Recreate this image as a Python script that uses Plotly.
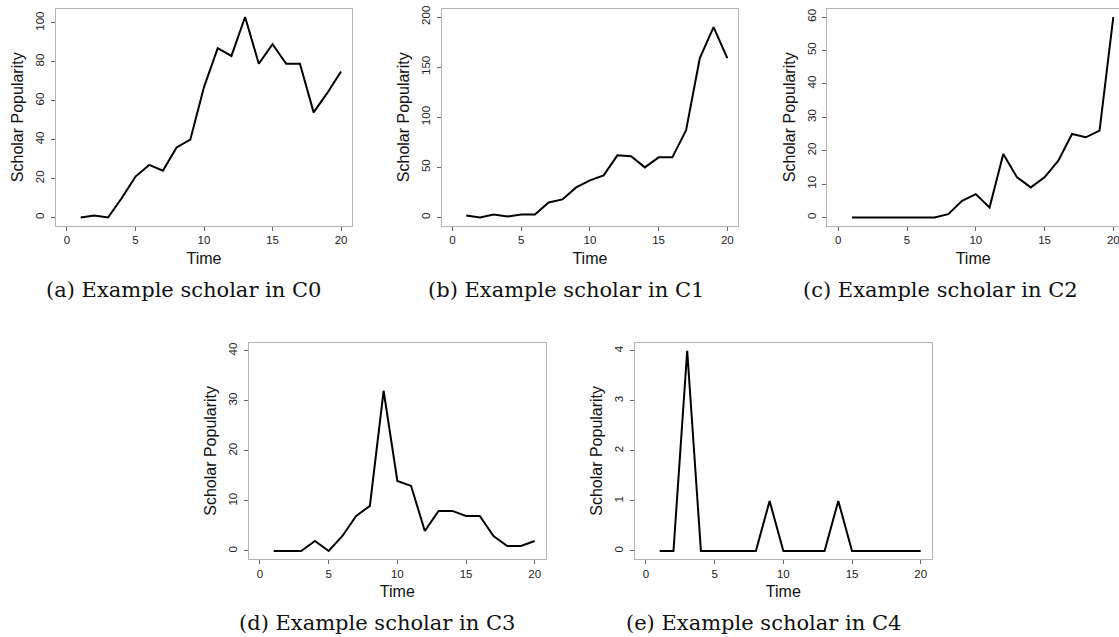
import plotly.graph_objects as go

# ---- data ----
time = list(range(1, 21))
c0 = [0, 1, 0, 10, 21, 27, 24, 36, 40, 67, 87, 83, 103, 79, 89, 79, 79, 54, 64, 75]
c1 = [2, 0, 3, 1, 3, 3, 15, 18, 30, 37, 42, 62, 61, 50, 60, 60, 87, 159, 190, 159]
c2 = [0, 0, 0, 0, 0, 0, 0, 1, 5, 7, 3, 19, 12, 9, 12, 17, 25, 24, 26, 60]
c3 = [0, 0, 0, 2, 0, 3, 7, 9, 32, 14, 13, 4, 8, 8, 7, 7, 3, 1, 1, 2]
c4 = [0, 0, 4, 0, 0, 0, 0, 0, 1, 0, 0, 0, 0, 1, 0, 0, 0, 0, 0, 0]
series = [c0, c1, c2, c3, c4]
ymax = [103, 200, 60, 40, 4]
ydtick = [20, 50, 10, 10, 1]
x_ticks = [0, 5, 10, 15, 20]
captions = ["(a) Example scholar in C0", "(b) Example scholar in C1",
            "(c) Example scholar in C2", "(d) Example scholar in C3",
            "(e) Example scholar in C4"]

# ---- layout (pixels) ----
W, H = 1119, 637
# plot boxes: (left, right, top, bottom) in pixels
boxes = [(56, 352, 9, 225.5), (441.5, 738.3, 9, 225.5), (827.3, 1124.3, 9, 225.5),
         (249, 545.7, 342.7, 559), (635, 931.7, 342.7, 559)]
cap_pos = [(183, 290), (566, 290), (940, 290), (377, 623), (763, 623)]

fig = go.Figure()
layout = dict(width=W, height=H, margin=dict(l=0, r=0, t=0, b=0),
              paper_bgcolor="white", plot_bgcolor="white", showlegend=False,
              font=dict(family="Liberation Sans, Arial, sans-serif", color="#222"))
annotations = []
tickfont = dict(family="Liberation Sans, Arial, sans-serif", size=11.5, color="#222")
titlefont = dict(family="Liberation Sans, Arial, sans-serif", size=16, color="#111")

for i, (ys, m, dt, box, cap) in enumerate(zip(series, ymax, ydtick, boxes, cap_pos)):
    n = "" if i == 0 else str(i + 1)
    l, r, t, b = box
    xr0, xr1 = -0.8, 20.8
    xright = r
    clipped = r > W
    if clipped:
        # box is clipped at the page edge
        scale = (r - l) / (xr1 - xr0)
        xr1 = xr0 + (W - l) / scale
        xright = W
    fig.add_trace(go.Scatter(x=time, y=ys, mode="lines",
                             line=dict(color="black", width=2),
                             xaxis="x" + n, yaxis="y" + n, hoverinfo="skip",
                             cliponaxis=False))
    layout["xaxis" + n] = dict(
        domain=[l / W, xright / W], range=[xr0, xr1], anchor="y" + n,
        tickmode="array", tickvals=x_ticks, ticks="outside", ticklen=4,
        tickcolor="#666", tickwidth=1, showgrid=False, zeroline=False,
        showline=True, linecolor="#b4b4b4", linewidth=1, mirror=True,
        tickfont=tickfont, automargin=False, ticklabeloverflow="allow",
        title=dict(text="Time", font=titlefont, standoff=7))
    layout["yaxis" + n] = dict(
        domain=[1 - b / H, 1 - t / H], range=[-0.04 * m, 1.04 * m], anchor="x" + n,
        tickmode="linear", tick0=0, dtick=dt, ticks="outside", ticklen=4,
        tickcolor="#666", tickwidth=1, showgrid=False, zeroline=False,
        showline=True, linecolor="#b4b4b4", linewidth=1,
        mirror=False if clipped else True,
        tickangle=-90, tickfont=tickfont, automargin=False, ticklabelstandoff=2,
        title=dict(text="Scholar Popularity", font=titlefont, standoff=6))
    annotations.append(dict(text=captions[i], x=cap[0] / W, y=1 - cap[1] / H,
                            xref="paper", yref="paper", showarrow=False,
                            xanchor="center", yanchor="middle",
                            font=dict(family="DejaVu Serif, serif", size=21, color="#111")))

layout["annotations"] = annotations
fig.update_layout(**layout)
fig.write_html("out.html", config={"displayModeBar": False},
               post_script="document.body.style.margin='0px';")
